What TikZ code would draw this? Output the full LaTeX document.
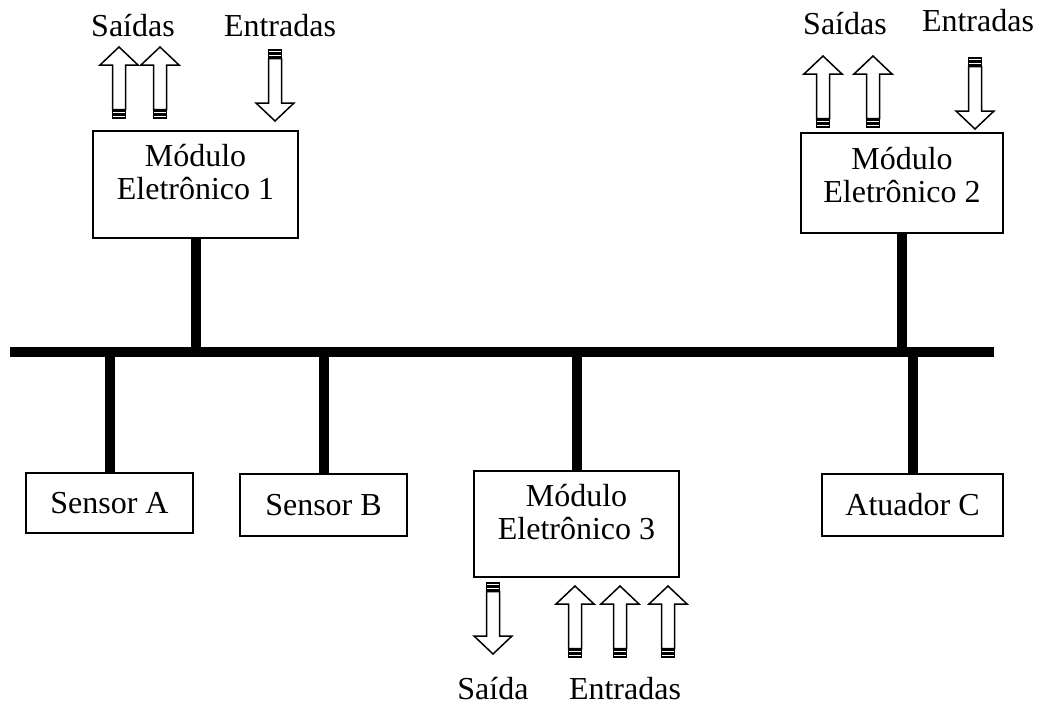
\documentclass[tikz,border=0pt]{standalone}
\usepackage{fontspec}
\setmainfont{Liberation Serif}

\tikzset{
  caixa/.style={draw, line width=2pt, inner sep=0pt},
  rotulo/.style={inner sep=0pt, font=\fontsize{32}{33}\selectfont},
  barramento/.style={line width=10pt},
  seta/.pic={
    \draw[line width=1.5pt] (-6.5,0) rectangle (6.5,-3);
    \draw[line width=1.5pt] (-6.5,-4.5) rectangle (6.5,-7);
    \draw[line width=1.5pt, fill=white] (-6.5,-8.5) -- (-6.5,-53) -- (-19,-53) -- (0,-71) -- (19,-53) -- (6.5,-53) -- (6.5,-8.5) -- cycle;
  }
}

\begin{document}
\begin{tikzpicture}[x=1pt, y=-1pt]
\useasboundingbox (0,0) rectangle (1037,705);
% barramento
\coordinate (busW) at (10,352);
\coordinate (busE) at (994,352);
\draw[barramento] (busW) -- (busE);
% modulos
\node[caixa, minimum width=205pt, minimum height=107pt] (mod1) at (195.5,184.5) {};
\node[rotulo, anchor=base] at ([yshift=-36pt]mod1.north) {Módulo};
\node[rotulo, anchor=base] at ([yshift=-69pt]mod1.north) {Eletrônico 1};
\node[caixa, minimum width=202pt, minimum height=100pt] (mod2) at (902,183) {};
\node[rotulo, anchor=base] at ([yshift=-37pt]mod2.north) {Módulo};
\node[rotulo, anchor=base] at ([yshift=-70pt]mod2.north) {Eletrônico 2};
\node[caixa, minimum width=205pt, minimum height=106pt] (mod3) at (576.5,524) {};
\node[rotulo, anchor=base] at ([yshift=-36pt]mod3.north) {Módulo};
\node[rotulo, anchor=base] at ([yshift=-69pt]mod3.north) {Eletrônico 3};
% sensores e atuador
\node[caixa, rotulo, minimum width=167pt, minimum height=60pt] (sensorA) at (109.5,503) {Sensor A};
\node[caixa, rotulo, minimum width=167pt, minimum height=62pt] (sensorB) at (323.5,505) {Sensor B};
\node[caixa, rotulo, minimum width=181pt, minimum height=62pt] (atuadorC) at (912.5,505) {Atuador C};
% ligacoes ao barramento
\draw[barramento] (mod1.south) -- (mod1.south |- busW);
\draw[barramento] (mod2.south) -- (mod2.south |- busW);
\draw[barramento] (busW -| sensorA.north) -- (sensorA.north);
\draw[barramento] (busW -| sensorB.north) -- (sensorB.north);
\draw[barramento] (busW -| mod3.north) -- (mod3.north);
\draw[barramento] (busW -| atuadorC.north) -- (atuadorC.north);
% entradas e saidas
\pic at (119,118) {seta};
\pic at (160,118) {seta};
\pic[rotate=180] at (275,50) {seta};
\node[rotulo, anchor=base] (saidas1) at (133,36) {Saídas};
\node[rotulo, anchor=base] (entradas1) at (280,36) {Entradas};
\pic at (823,127) {seta};
\pic at (873,127) {seta};
\pic[rotate=180] at (975,58) {seta};
\node[rotulo, anchor=base] (saidas2) at (845,34) {Saídas};
\node[rotulo, anchor=base] (entradas2) at (978,31) {Entradas};
\pic[rotate=180] at (493,583) {seta};
\pic at (575,657) {seta};
\pic at (620,657) {seta};
\pic at (668,657) {seta};
\node[rotulo, anchor=base] (saida3) at (493,699) {Saída};
\node[rotulo, anchor=base] (entradas3) at (625,699) {Entradas};
\end{tikzpicture}
\end{document}
